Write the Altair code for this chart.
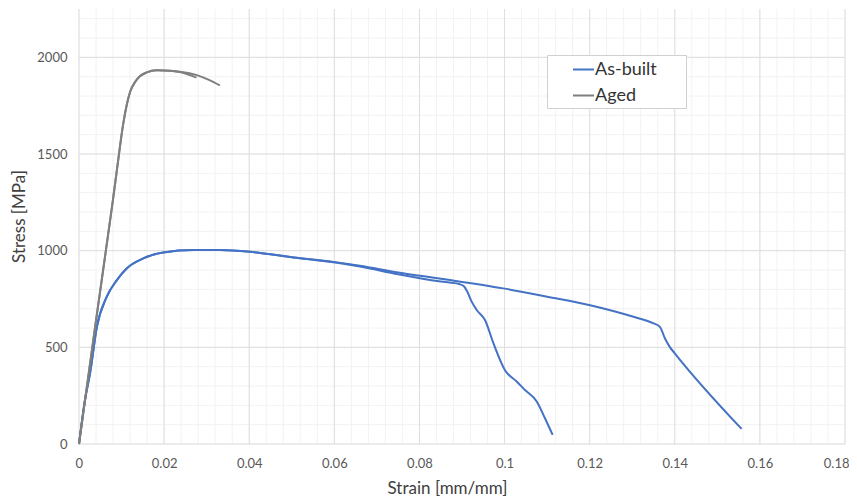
import altair as alt
import pandas as pd

# ---- data ----
ab1_strain = [0, 0.0014, 0.0026, 0.0042, 0.0065, 0.0089, 0.0112, 0.0151, 0.0198, 0.0269, 0.0331,
              0.0402, 0.0504, 0.0598, 0.066, 0.075, 0.085, 0.0895, 0.0905, 0.0912, 0.0923, 0.0935,
              0.0954, 0.0974, 0.1001, 0.1029, 0.1048, 0.1076, 0.1095, 0.1113]
ab1_stress = [0, 227, 367, 606, 761, 848, 908, 960, 991, 1003, 1003,
              994, 965, 940, 918, 878, 840, 826, 815, 790, 735, 692,
              641, 520, 382, 322, 279, 219, 133, 47]

ab2_strain = [0, 0.0014, 0.0026, 0.0042, 0.0065, 0.0089, 0.0112, 0.0151, 0.0198, 0.0269, 0.0331,
              0.0402, 0.0504, 0.0598, 0.066, 0.075, 0.085, 0.0997, 0.11, 0.1201, 0.1303, 0.135,
              0.1365, 0.1377, 0.1389, 0.14, 0.1557]
ab2_stress = [0, 227, 367, 606, 761, 848, 908, 960, 991, 1003, 1003,
              994, 965, 942, 922, 887, 855, 805, 762, 718, 658, 624,
              606, 546, 500, 469, 78]

ag1_strain = [0, 0.004, 0.0079, 0.0089, 0.0104, 0.0112, 0.012, 0.0132, 0.0143, 0.0159, 0.0183,
              0.0214, 0.0237, 0.0276]
ag1_stress = [0, 640, 1250, 1416, 1657, 1752, 1821, 1873, 1902, 1922, 1933,
              1931, 1924, 1895]

ag2_strain = [0, 0.004, 0.0079, 0.0089, 0.0104, 0.0112, 0.012, 0.0132, 0.0143, 0.0159, 0.0183,
              0.0214, 0.0237, 0.0277, 0.0304, 0.0331]
ag2_stress = [0, 640, 1250, 1416, 1657, 1752, 1821, 1873, 1902, 1922, 1933,
              1931, 1926, 1908, 1885, 1855]

series_names = ["As-built", "Aged"]
series_colors = ["#4472C4", "#7F7F7F"]

x_major = [0, 0.02, 0.04, 0.06, 0.08, 0.1, 0.12, 0.14, 0.16, 0.18]
y_major = [0, 500, 1000, 1500, 2000]
x_minor = [round(i * 0.004, 3) for i in range(46)]
y_minor = [i * 100 for i in range(23)]

rows = []
for name, spec, xs_, ys_ in [("As-built", "ab1", ab1_strain, ab1_stress),
                             ("As-built", "ab2", ab2_strain, ab2_stress),
                             ("Aged", "ag1", ag1_strain, ag1_stress),
                             ("Aged", "ag2", ag2_strain, ag2_stress)]:
    for i, (a, b) in enumerate(zip(xs_, ys_)):
        rows.append({"strain": a, "stress": b, "series": name, "spec": spec, "i": i})
df = pd.DataFrame(rows)

W, H = 766, 435
FONT = "Lato"

xs = alt.Scale(domain=[0, 0.18], nice=False, zero=False)
ys = alt.Scale(domain=[0, 2250], nice=False)

vminor = alt.Chart(pd.DataFrame({"v": x_minor})).mark_rule(color="#f2f2f2", strokeWidth=1).encode(
    x=alt.X("v:Q", scale=xs), y=alt.value(0), y2=alt.value(H))
hminor = alt.Chart(pd.DataFrame({"v": y_minor})).mark_rule(color="#f2f2f2", strokeWidth=1).encode(
    y=alt.Y("v:Q", scale=ys), x=alt.value(0), x2=alt.value(W))
vmajor = alt.Chart(pd.DataFrame({"v": x_major})).mark_rule(color="#dedede", strokeWidth=1).encode(
    x=alt.X("v:Q", scale=xs), y=alt.value(0), y2=alt.value(H))
hmajor = alt.Chart(pd.DataFrame({"v": y_major})).mark_rule(color="#dedede", strokeWidth=1).encode(
    y=alt.Y("v:Q", scale=ys), x=alt.value(0), x2=alt.value(W))

lines = alt.Chart(df).mark_line(strokeWidth=2, strokeJoin="round", interpolate="monotone").encode(
    x=alt.X("strain:Q", scale=xs,
            axis=alt.Axis(values=x_major, title="Strain [mm/mm]", grid=False, domain=False,
                          ticks=False, tickSize=0, labelPadding=13, labelFontSize=13,
                          labelFlush=True, labelFlushOffset=4,
                          labelColor="#595959", labelFont=FONT, titleFont=FONT,
                          titleFontSize=17, titleFontWeight="normal", titleColor="#404040",
                          titleX=368, titleY=44, titleBaseline="middle", titleAlign="center",
                          labelExpr="format(datum.value, '~g')")),
    y=alt.Y("stress:Q", scale=ys,
            axis=alt.Axis(values=y_major, title="Stress [MPa]", grid=False, domain=False,
                          ticks=False, tickSize=0, labelPadding=12, labelFontSize=13,
                          format="d",
                          labelColor="#595959", labelFont=FONT, titleFont=FONT,
                          titleFontSize=17, titleFontWeight="normal", titleColor="#404040",
                          titleX=-60, titleY=207, titleBaseline="middle", titleAlign="center",
                          titleAngle=-90)),
    color=alt.Color("series:N", scale=alt.Scale(domain=series_names, range=series_colors),
                    legend=alt.Legend(title=None, orient="none", legendX=468, legendY=46,
                                      symbolType="stroke", symbolSize=441, symbolStrokeWidth=2,
                                      labelFontSize=18, labelFont=FONT, labelColor="#333333",
                                      padding=3, symbolOffset=22, labelOffset=0, rowPadding=5,
                                      strokeColor="#d0d0d0", fillColor="#ffffff",
                                      labelLimit=300,
                                      labelExpr="datum.label + '\u2800\u2800'")),
    detail="spec:N",
    order="i:Q",
)

chart = alt.layer(vminor, hminor, vmajor, hmajor, lines).properties(
    width=W, height=H,
    autosize=alt.AutoSizeParams(type="none"),
    padding={"left": 71, "top": 1, "right": 4, "bottom": 54},
).configure_view(stroke=None)

chart.save("out.html", embed_options={"renderer": "svg", "actions": False})
